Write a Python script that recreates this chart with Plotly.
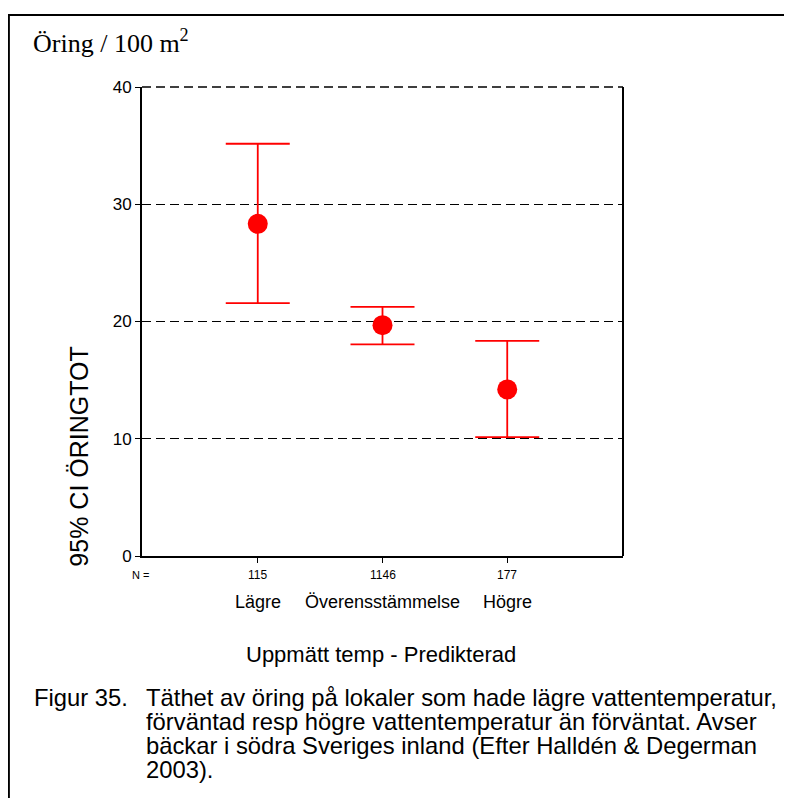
import plotly.graph_objects as go

# data
groups = ["Lägre", "Överensstämmelse", "Högre"]
n_values = ["115", "1146", "177"]
means = [28.33, 19.69, 14.21]
ci_upper = [35.16, 21.24, 18.35]
ci_lower = [21.56, 18.05, 10.14]
y_ticks = [0, 10, 20, 30, 40]

caption_lines = [
    "Täthet av öring på lokaler som hade lägre vattentemperatur,",
    "förväntad resp högre vattentemperatur än förväntat. Avser",
    "bäckar i södra Sveriges inland (Efter Halldén & Degerman",
    "2003).",
]

W, H = 792, 798
OFF = 8  # default body margin of the html page
L, R, T, B = 141.5, 168.5, 87, 242
SANS = "Liberation Sans, Arial, sans-serif"


def px_x(x):
    return (x - L) / (W - L - R)


def px_y(y):
    return (H - B - y) / (H - T - B)


xpos = [1, 2, 3]
err_plus = [u - m for u, m in zip(ci_upper, means)]
err_minus = [m - lo for m, lo in zip(means, ci_lower)]

fig = go.Figure()
fig.add_trace(go.Scatter(
    x=xpos, y=means, mode="markers",
    marker=dict(symbol="circle", size=20, color="#ff0000"),
    error_y=dict(type="data", symmetric=False, array=err_plus, arrayminus=err_minus,
                 color="#ff0000", thickness=1.8, width=32),
    showlegend=False,
))

fig.update_layout(
    width=W - OFF, height=H - OFF,
    margin=dict(l=L - OFF, r=R, t=T - OFF, b=B, pad=0),
    paper_bgcolor="white", plot_bgcolor="white",
    font=dict(family=SANS, color="black"),
    xaxis=dict(range=[0.072, 3.928], tickvals=xpos, showticklabels=False,
               ticks="outside", ticklen=5, tickcolor="black", tickwidth=1,
               showgrid=False, zeroline=False, showline=True, linecolor="black",
               linewidth=2, fixedrange=True),
    yaxis=dict(range=[0, 40], tickvals=y_ticks, ticks="outside", ticklen=5,
               tickcolor="black", tickwidth=1, tickfont=dict(size=17, family=SANS),
               showgrid=True, gridcolor="black", gridwidth=1.4, griddash="9px,5px",
               zeroline=False, showline=True, linecolor="black", linewidth=2,
               fixedrange=True),
)

# right edge and dashed top of the plot box
fig.add_shape(type="line", xref="paper", yref="paper", x0=1, x1=1, y0=0, y1=1,
              line=dict(color="black", width=2))
fig.add_shape(type="line", xref="paper", yref="paper", x0=0, x1=1, y0=1, y1=1,
              line=dict(color="black", width=1.4, dash="9px,5px"))

# outer frame of the figure
fig.add_shape(type="rect", xref="paper", yref="paper",
              x0=px_x(8), x1=px_x(820), y0=px_y(15), y1=px_y(830),
              line=dict(color="black", width=2.2))

ann = []
ann.append(dict(text="Öring / 100 m<sup>2</sup>", x=px_x(30), y=px_y(42),
                xanchor="left", yanchor="middle",
                font=dict(family="Liberation Serif, Times New Roman, serif", size=26)))
ann.append(dict(text="95% CI ÖRINGTOT", x=px_x(78), y=px_y(457), textangle=-90,
                xanchor="center", yanchor="middle", font=dict(size=25)))
ann.append(dict(text="N =", x=px_x(140), y=px_y(575), xanchor="center",
                yanchor="middle", font=dict(size=11)))
for xi, n, g in zip(xpos, n_values, groups):
    ann.append(dict(text=n, x=xi, xref="x", y=px_y(575), xanchor="center",
                    yanchor="middle", font=dict(size=12)))
    ann.append(dict(text=g, x=xi, xref="x", y=px_y(602), xanchor="center",
                    yanchor="middle", font=dict(size=18)))
ann.append(dict(text="Uppmätt temp - Predikterad", x=px_x(381), y=px_y(654),
                xanchor="center", yanchor="middle", font=dict(size=22)))
ann.append(dict(text="Figur 35.", x=px_x(31), y=px_y(697), xanchor="left",
                yanchor="middle", font=dict(size=23.8)))
for i, line in enumerate(caption_lines):
    ann.append(dict(text=line, x=px_x(144), y=px_y(697 + 24 * i), xanchor="left",
                    yanchor="middle", font=dict(size=23.8)))

for a in ann:
    a.setdefault("xref", "paper")
    a["yref"] = "paper"
    a["showarrow"] = False
fig.update_layout(annotations=ann)

fig.write_html("out.html")
